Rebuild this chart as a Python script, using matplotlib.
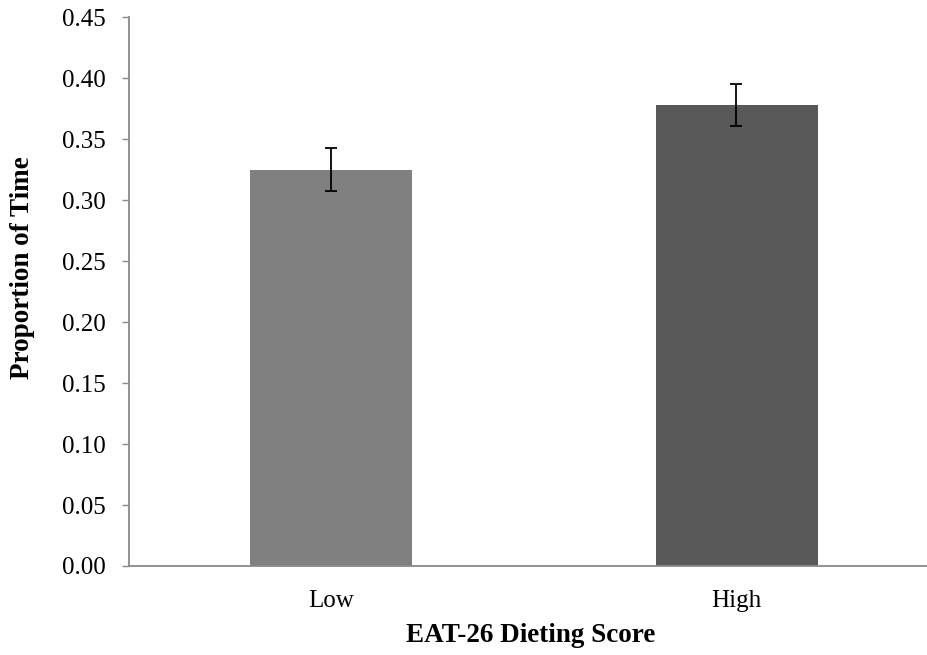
import matplotlib
matplotlib.use("Agg")
import matplotlib.pyplot as plt
import numpy as np

categories = ["Low", "High"]
values = [0.325, 0.378]
errors = [0.0175, 0.0175]
yticks = [0.00, 0.05, 0.10, 0.15, 0.20, 0.25, 0.30, 0.35, 0.40, 0.45]

plt.rcParams['font.family'] = ['Liberation Serif', 'DejaVu Serif']

fig = plt.figure(figsize=(9.28, 6.55), dpi=100)
W, H = 928, 655
left, right, top, bottom = 129, 939, 17.3, 566
ax = fig.add_axes([left / W, 1 - bottom / H, (right - left) / W, (bottom - top) / H])

x = np.arange(len(categories))
ax.bar(x, values, width=0.40, color=["#808080", "#595959"], zorder=2)
ax.errorbar(x, values, yerr=errors, fmt='none', ecolor='black',
            elinewidth=1.3, capsize=4.5, capthick=1.3, zorder=3)

ax.set_xlim(-0.5, 1.5)
ax.set_ylim(0, 0.45)
ax.set_yticks(yticks)
ax.set_yticklabels([f"{t:.2f}" for t in yticks])
ax.set_xticks(x)
ax.set_xticklabels(categories)

for s in ["top", "right"]:
    ax.spines[s].set_visible(False)
for s in ["left", "bottom"]:
    ax.spines[s].set_color("#898989")
    ax.spines[s].set_linewidth(1.3)

ax.tick_params(axis='y', length=5, width=1.0, color="#898989", labelsize=18, pad=12)
ax.tick_params(axis='x', length=0, labelsize=18, pad=17)

ax.set_xlabel("EAT-26 Dieting Score", fontsize=19.5, fontweight='bold')
ax.set_ylabel("Proportion of Time", fontsize=19.5, fontweight='bold')
ax.xaxis.set_label_coords((531 - left) / (right - left), -(623 - bottom) / (bottom - top))
ax.yaxis.set_label_coords(-(left - 35) / (right - left), (bottom - 268) / (bottom - top))

fig.savefig("out.png", dpi=100)
